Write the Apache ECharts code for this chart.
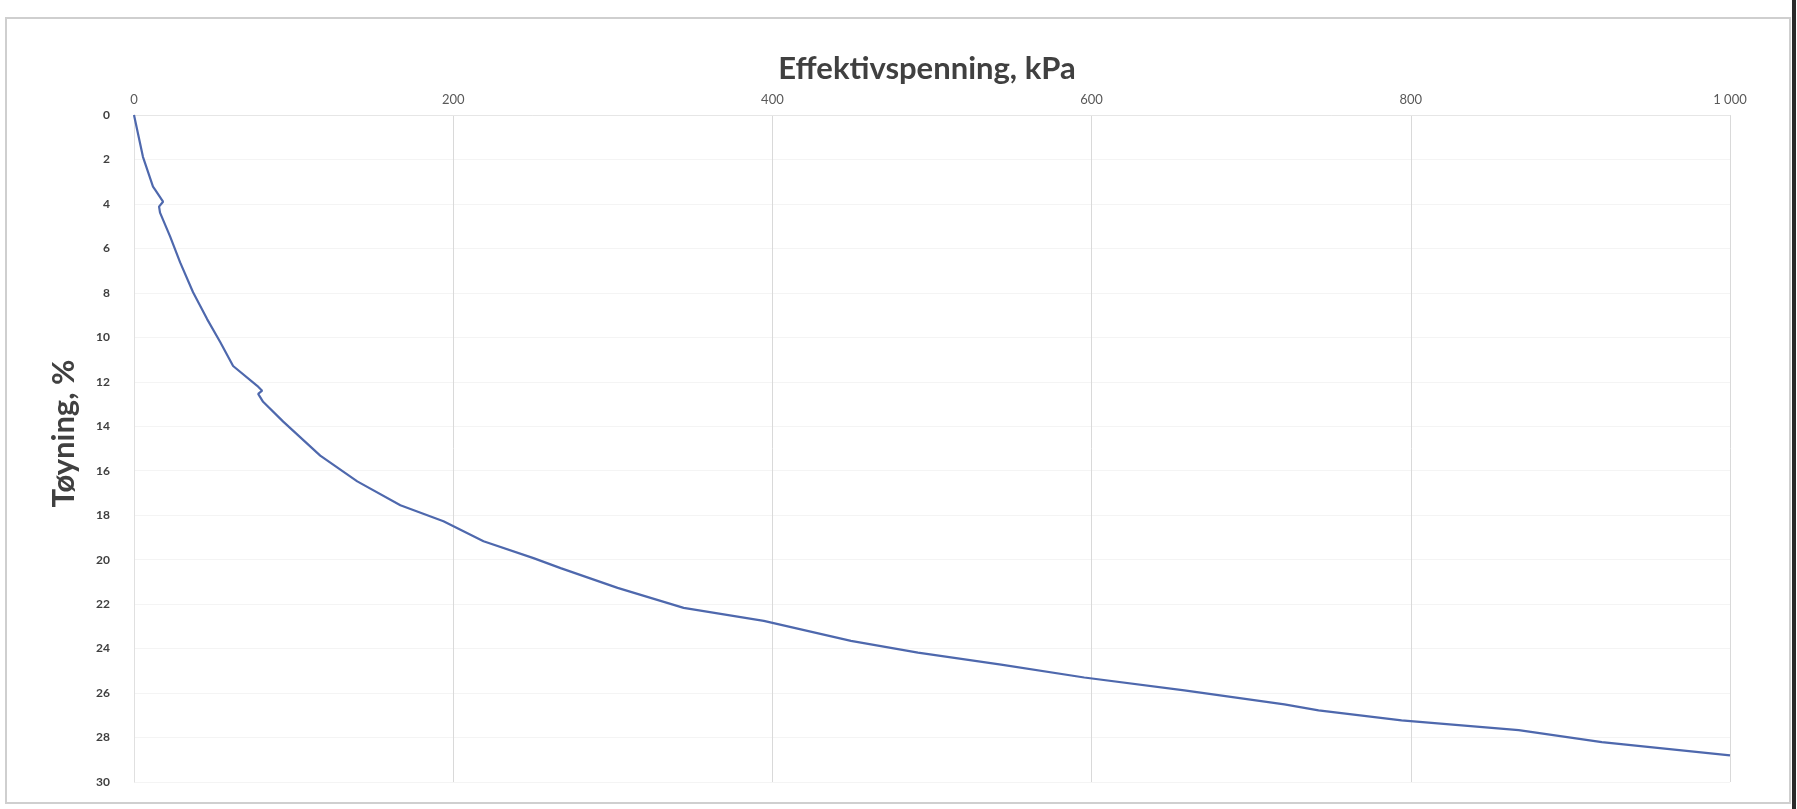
<!DOCTYPE html>
<html>
<head>
<meta charset="utf-8">
<script src="https://cdn.jsdelivr.net/npm/echarts@6/dist/echarts.min.js"></script>
<style>
  html, body { margin: 0; padding: 0; background: #ffffff; }
  #chart { width: 1797px; height: 809px; }
</style>
</head>
<body>
<div id="chart"></div>
<script>
// Effective stress (kPa) and strain (%)
const stress = [0, 5.6, 11.9, 13.2, 18.2, 15.7, 16.3, 22.6, 28.9, 37.0, 45.8, 54.0, 62.1, 77.2, 80.3, 77.8, 80.9,
  93.5, 116.7, 139.9, 166.9, 193.9, 219.0, 250.3, 267.3, 303.0, 344.4, 394.6, 449.2, 491.2, 543.3,
  595.4, 658.1, 720.8, 742.2, 794.2, 867.6, 919.7, 1000];
const strain = [0, 1.88, 3.22, 3.36, 3.90, 4.12, 4.39, 5.46, 6.63, 7.97, 9.18, 10.21, 11.29, 12.18, 12.40, 12.54, 12.90,
  13.79, 15.32, 16.48, 17.55, 18.27, 19.17, 19.93, 20.38, 21.27, 22.17, 22.75, 23.65, 24.18, 24.72,
  25.30, 25.88, 26.51, 26.78, 27.23, 27.67, 28.21, 28.80];

const xTitle = 'Effektivspenning, kPa';
const yTitle = 'Tøyning, %';

const seriesData = stress.map((s, i) => [s, strain[i]]);

const chart = echarts.init(document.getElementById('chart'), null, { renderer: 'canvas' });
chart.setOption({
  backgroundColor: '#ffffff',
  animation: false,
  textStyle: { fontFamily: 'Lato, "Open Sans", sans-serif' },
  title: {
    text: xTitle,
    left: 922,
    top: 48,
    textAlign: 'center',
    textStyle: { fontFamily: 'Lato', fontWeight: 'bold', fontSize: 31, color: '#404040' }
  },
  graphic: [
    { type: 'rect', shape: { x: 6, y: 18, width: 1784, height: 785 },
      style: { fill: 'none', stroke: '#cfcfcf', lineWidth: 2 }, silent: true },
    { type: 'line', shape: { x1: 1794, y1: 0, x2: 1794, y2: 809 },
      style: { stroke: '#2a2a2a', lineWidth: 4 }, silent: true }
  ],
  grid: { left: 134, right: 67, top: 115, bottom: 27, containLabel: false },
  xAxis: {
    type: 'value',
    position: 'top',
    min: 0, max: 1000, interval: 200,
    axisLine: { show: true, lineStyle: { color: '#e6e6e6', width: 1 } },
    axisTick: { show: false },
    splitLine: { show: true, lineStyle: { color: '#d9d9d9', width: 1 } },
    axisLabel: {
      margin: 9, fontSize: 13, color: '#595959', fontFamily: 'Lato',
      formatter: v => String(v).replace(/\B(?=(\d{3})+(?!\d))/g, ' ')
    }
  },
  yAxis: {
    type: 'value',
    inverse: true,
    min: 0, max: 30, interval: 2,
    name: yTitle,
    nameLocation: 'middle',
    nameGap: 55,
    nameRotate: 90,
    nameTextStyle: { fontFamily: 'Lato', fontWeight: 'bold', fontSize: 31, color: '#404040', padding: [0, 0, 0, 30] },
    axisLine: { show: true, lineStyle: { color: '#e0e0e0', width: 1 } },
    axisTick: { show: false },
    splitLine: { show: true, lineStyle: { color: '#f4f4f4', width: 1 } },
    axisLabel: { margin: 24, fontSize: 12, color: '#404040', fontFamily: 'Lato', fontWeight: 'bold' }
  },
  series: [{
    type: 'line',
    data: seriesData,
    showSymbol: false,
    smooth: false,
    lineStyle: { color: '#4e68ad', width: 2.2 },
    itemStyle: { color: '#4e68ad' }
  }]
});
</script>
</body>
</html>
